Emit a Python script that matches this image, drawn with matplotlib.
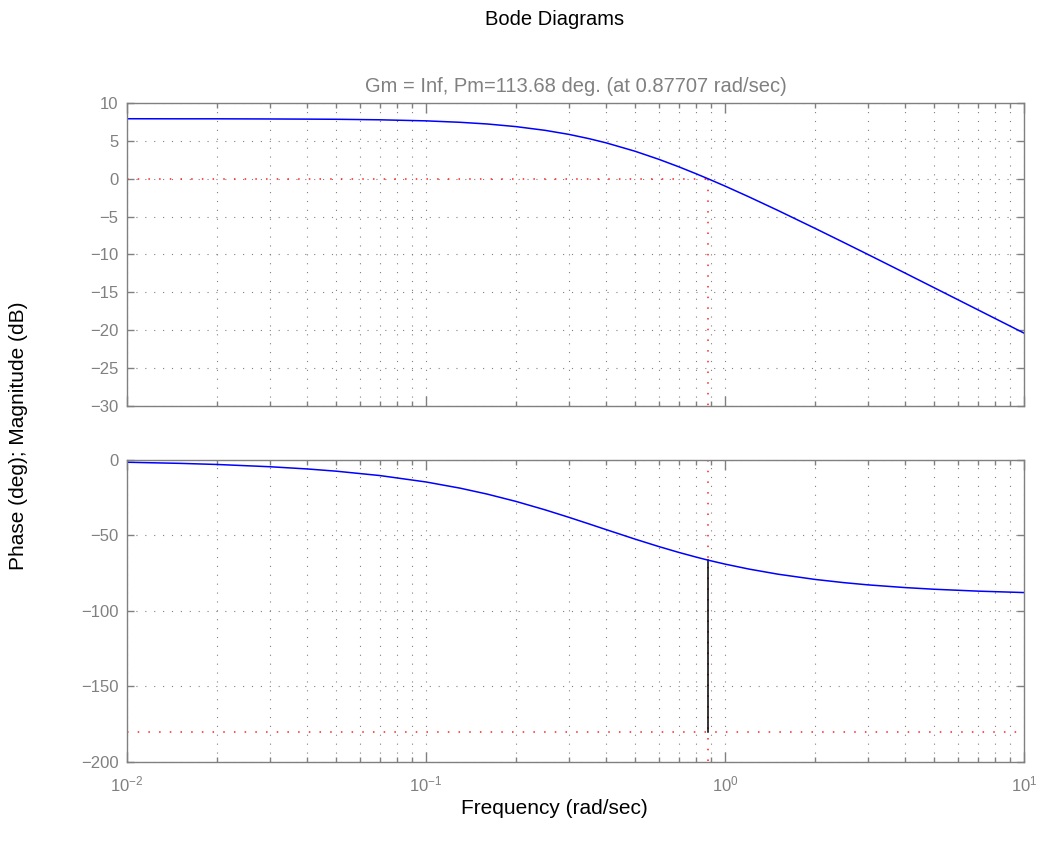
import matplotlib.pyplot as plt
from matplotlib.ticker import LogLocator, NullFormatter

plt.rcParams['font.family'] = ['Liberation Sans', 'DejaVu Sans']

# frekvence (rad/s), amplituda (dB) in faza (deg) odčitane s slike
w = [0.01, 0.015, 0.02, 0.03, 0.04, 0.05, 0.07, 0.1, 0.13, 0.16, 0.2, 0.25,
     0.3, 0.35, 0.4, 0.5, 0.6, 0.7, 0.8, 0.877, 1.0, 1.2, 1.5, 2.0, 2.5, 3.0,
     4.0, 5.0, 7.0, 10.0]
mag = [7.92, 7.91, 7.91, 7.89, 7.87, 7.85, 7.78, 7.64, 7.45, 7.23, 6.88, 6.39,
       5.86, 5.30, 4.74, 3.63, 2.57, 1.58, 0.66, 0.0, -0.97, -2.38, -4.17, -6.55,
       -8.43, -9.98, -12.45, -14.38, -17.29, -20.38]
faza = [-1.49, -2.23, -2.97, -4.46, -5.93, -7.40, -10.30, -14.56, -18.66, -22.57,
        -27.45, -33.0, -37.93, -42.27, -46.09, -52.40, -57.31, -61.19, -64.30,
        -66.32, -68.95, -72.21, -75.60, -79.10, -81.24, -82.69, -84.50, -85.60,
        -86.85, -87.80]

wc = 0.87707   # presečna frekvenca
pm = 113.68    # fazni razloček
naslov = 'Bode Diagrams'
podnaslov = 'Gm = Inf, Pm=113.68 deg. (at 0.87707 rad/sec)'

siva = '#808080'
rdeca = '#ff2020'
pike = (0, (1, 7))

fig = plt.figure(figsize=(10.37, 8.49), dpi=100)
ax1 = fig.add_axes([0.1225, 0.5218, 0.865, 0.3569])
ax2 = fig.add_axes([0.1225, 0.1025, 0.865, 0.3557])

for ax in (ax1, ax2):
	ax.set_xscale('log')
	ax.set_xlim(0.01, 10)
	ax.xaxis.set_minor_locator(LogLocator(base=10, subs=range(2, 10)))
	ax.xaxis.set_minor_formatter(NullFormatter())
	ax.grid(True, which='major', axis='both', color=siva, linestyle=pike, linewidth=0.8)
	ax.grid(True, which='minor', axis='x', color=siva, linestyle=pike, linewidth=0.8)
	ax.tick_params(which='both', direction='in', top=True, right=True, colors=siva,
	               labelsize=12, width=1)
	ax.tick_params(axis='x', which='major', length=7)
	ax.tick_params(axis='x', which='minor', length=3.5)
	ax.tick_params(axis='y', which='major', length=5, pad=6)
	ax.tick_params(axis='x', which='major', pad=9)
	for s in ax.spines.values():
		s.set_color(siva)
		s.set_linewidth(1)
	ax.set_axisbelow(True)

# amplituda
ax1.plot([0.01, wc], [0, 0], color=rdeca, linestyle=(0, (1, 6)), linewidth=1.1)
ax1.plot([wc, wc], [0, -30], color=rdeca, linestyle=(0, (1, 6)), linewidth=1.1)
ax1.plot(w, mag, color='#0000ff', linewidth=1.1)
ax1.set_ylim(-30, 10)
ax1.set_yticks([10, 5, 0, -5, -10, -15, -20, -25, -30])
ax1.tick_params(axis='x', labelbottom=False)
ax1.set_title(podnaslov, color=siva, fontsize=14.5, pad=8)

# faza
ax2.plot([0.01, 10], [-180, -180], color=rdeca, linestyle=(0, (1, 6)), linewidth=1.1)
ax2.plot([wc, wc], [0, -200], color=rdeca, linestyle=(0, (1, 6)), linewidth=1.1)
ax2.plot([wc, wc], [-180, pm - 180], color='k', linewidth=1.1)
ax2.plot(w, faza, color='#0000ff', linewidth=1.1)
ax2.set_ylim(-200, 0)
ax2.set_yticks([0, -50, -100, -150, -200])

fig.text(0.535, 0.977, naslov, ha='center', va='center', fontsize=14.5)
fig.text(0.535, 0.048, 'Frequency (rad/sec)', ha='center', va='center', fontsize=15)
fig.text(0.018, 0.487, 'Phase (deg); Magnitude (dB)', ha='center', va='center',
         rotation=90, fontsize=15)

plt.savefig('out.png', dpi=100)
